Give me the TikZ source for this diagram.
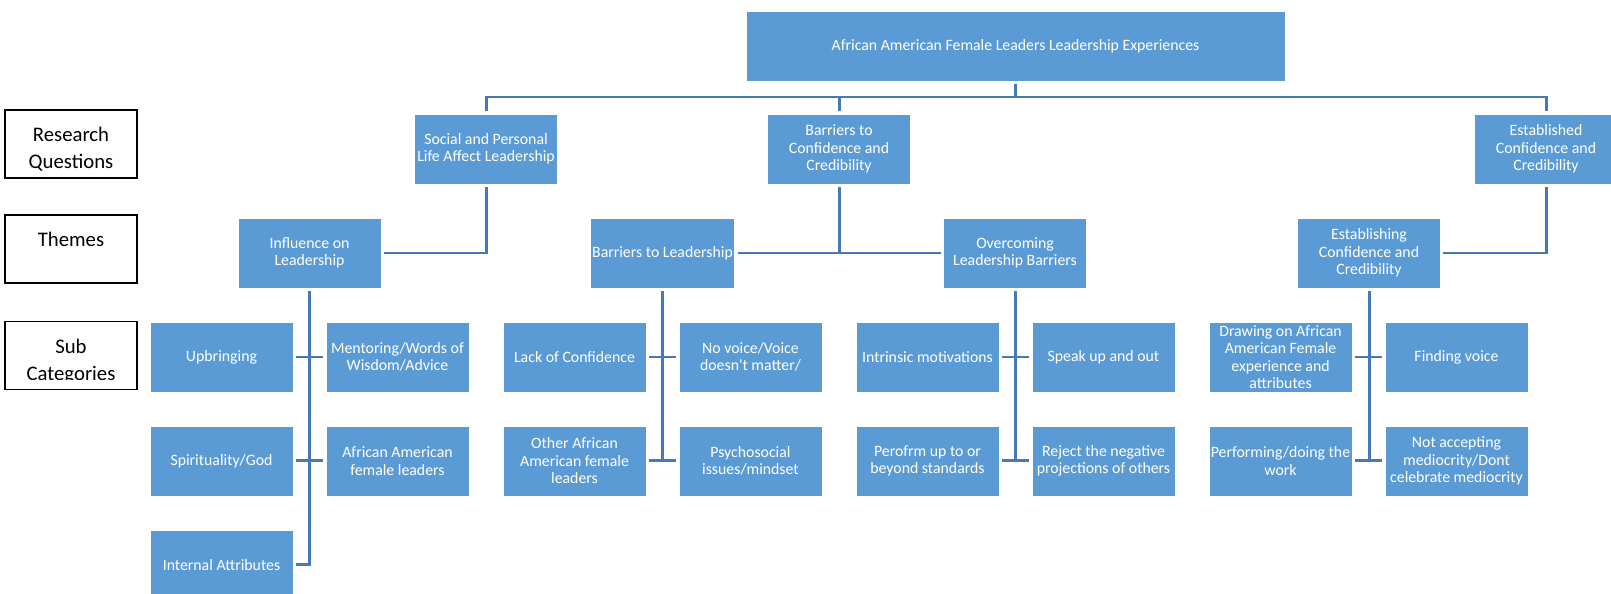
\documentclass[tikz,border=0pt]{standalone}
\usepackage{fontspec}
\setmainfont{Carlito}
\usepackage{tikz}
\usetikzlibrary{positioning}

\definecolor{boxblue}{RGB}{91,155,213}
\definecolor{lineblue}{RGB}{70,122,182}

\begin{document}
\begin{tikzpicture}[
    x=0.02cm, y=-0.02cm,
    node distance=0.68cm and 0.66cm,
    blockbox/.style={rectangle, fill=boxblue, draw=white, line width=0.4pt, text=white, align=center, minimum width=2.86cm, minimum height=1.4cm, inner sep=1pt, outer sep=0pt, font=\fontsize{9}{10}\selectfont},
    sidelabel/.style={rectangle, draw=black, line width=0.8pt, minimum width=2.64cm, minimum height=1.36cm, outer sep=0pt},
    sidetext/.style={align=center, inner sep=0pt, font=\fontsize{11.8}{15.4}\selectfont},
    conn/.style={draw=lineblue, line width=1.7pt, shorten <=1.7pt, shorten >=1.7pt}
]
\clip (0,0) rectangle (1611,594);

% Row labels
\node[sidelabel] (rq) at (71,144) {};
\node[sidetext] (rqtext) at (71,149) {Research\\Questions};
\node[sidelabel] (themes) at (71,249) {};
\node[sidetext] (themestext) at (71,253) {Themes\\\mbox{}};
\node[sidelabel] (subcat) at (71,355.5) {};
\begin{scope}
  \clip (5,321) rectangle (137,379);
  \node[sidetext] (subcattext) at (71,361.5) {Sub\\Categories};
\end{scope}

% Top
\node[blockbox, minimum width=10.78cm] (top) at (1015.5,46) {African American Female Leaders Leadership Experiences};
\coordinate (bus) at (0,97);

% Research questions
\node[blockbox] (social) at (486,149) {Social and Personal\\Life Affect Leadership};
\node[blockbox] (barq) at (839,149) {Barriers to\\Confidence and\\Credibility};
\node[blockbox] (estq) at (1546,149) {Established\\Confidence and\\Credibility};

% Themes
\node[blockbox] (influence) at (309.5,253) {Influence on\\Leadership};
\node[blockbox] (barlead) at (662.5,253) {Barriers to Leadership};
\node[blockbox] (overcome) at (1015,253) {Overcoming\\Leadership Barriers};
\node[blockbox] (establ) at (1369,253) {Establishing\\Confidence and\\Credibility};

% Sub categories
\node[blockbox] (upbr) at (221.5,357) {Upbringing};
\node[blockbox, right=of upbr] (mentor) {Mentoring/Words of\\Wisdom/Advice};
\node[blockbox, below=of upbr] (spirit) {Spirituality/God};
\node[blockbox, right=of spirit] (afleaders) {African American\\female leaders};
\node[blockbox, below=of spirit] (intattr) {Internal Attributes};

\node[blockbox] (lack) at (574.5,357) {Lack of Confidence};
\node[blockbox, right=of lack] (novoice) {No voice/Voice\\doesn\textquotesingle t matter/};
\node[blockbox, below=of lack] (other) {Other African\\American female\\leaders};
\node[blockbox, right=of other] (psycho) {Psychosocial\\issues/mindset};

\node[blockbox] (intrinsic) at (927.5,357) {Intrinsic motivations};
\node[blockbox, right=of intrinsic] (speak) {Speak up and out};
\node[blockbox, below=of intrinsic] (perofrm) {Perofrm up to or\\beyond standards};
\node[blockbox, right=of perofrm] (reject) {Reject the negative\\projections of others};

\node[blockbox] (drawing) at (1280.5,357) {Drawing on African\\American Female\\experience and\\attributes};
\node[blockbox, right=of drawing] (finding) {Finding voice};
\node[blockbox, below=of drawing] (performing) {Performing/doing the\\work};
\node[blockbox, right=of performing] (notaccept) {Not accepting\\mediocrity/Dont\\celebrate mediocrity};

% Connectors
\draw[conn, shorten >=0pt] (top.south) -- (top.south |- bus);
\draw[conn] (social.north) |- (estq.north |- bus) -- (estq.north);
\draw[conn, shorten >=0pt] (barq.north) -- (barq.north |- bus);

\draw[conn] (social.south) |- (influence.east);
\draw[conn, shorten >=0pt] (barq.south) -- (barq.south |- barlead.east);
\draw[conn] (barlead.east) -- (overcome.west);
\draw[conn] (estq.south) |- (establ.east);

\draw[conn] (influence.south) |- (intattr.east);
\draw[conn] (upbr.east) -- (mentor.west);
\draw[conn] (spirit.east) -- (afleaders.west);

\draw[conn, shorten >=0pt] (barlead.south) -- (barlead.south |- other.east);
\draw[conn] (lack.east) -- (novoice.west);
\draw[conn] (other.east) -- (psycho.west);

\draw[conn, shorten >=0pt] (overcome.south) -- (overcome.south |- perofrm.east);
\draw[conn] (intrinsic.east) -- (speak.west);
\draw[conn] (perofrm.east) -- (reject.west);

\draw[conn, shorten >=0pt] (establ.south) -- (establ.south |- performing.east);
\draw[conn] (drawing.east) -- (finding.west);
\draw[conn] (performing.east) -- (notaccept.west);

\end{tikzpicture}
\end{document}
